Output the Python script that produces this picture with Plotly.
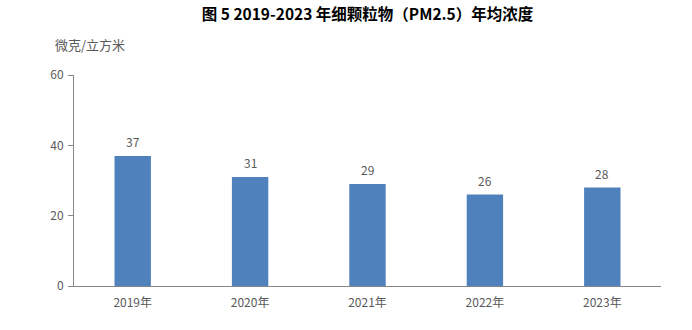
import plotly.graph_objects as go

years = ["2019年", "2020年", "2021年", "2022年", "2023年"]
pm25 = [37, 31, 29, 26, 28]
y_ticks = [0, 20, 40, 60]

title_text = "图 5 2019-2023 年细颗粒物（PM2.5）年均浓度"
unit_text = "微克/立方米"

bar_color = "#4F81BD"
axis_color = "#868686"
text_color = "#595959"
font_family = "Noto Sans CJK SC, Noto Sans, sans-serif"

fig = go.Figure()
fig.add_trace(go.Bar(
    x=years,
    y=pm25,
    marker=dict(color=bar_color, line=dict(width=0)),
    width=0.31,
    hoverinfo="x+y",
))

# value labels above each bar
for yr, v in zip(years, pm25):
    fig.add_annotation(
        x=yr, y=v, text=str(v), showarrow=False,
        yanchor="bottom", yshift=4,
        font=dict(family=font_family, size=12, color=text_color),
    )

fig.add_annotation(
    xref="paper", yref="paper", x=-0.035, y=1.09,
    xanchor="left", yanchor="bottom",
    text=unit_text, showarrow=False,
    font=dict(family=font_family, size=13, color=text_color),
)

fig.update_layout(
    width=692, height=330,
    margin=dict(l=74, r=31, t=75, b=44),
    paper_bgcolor="white", plot_bgcolor="white",
    showlegend=False,
    title=dict(
        text="<b>" + title_text + "</b>",
        x=0.5, xref="paper", xanchor="center",
        y=0.955, yanchor="middle",
        font=dict(family=font_family, size=15.5, color="black"),
    ),
    xaxis=dict(
        showline=True, linecolor=axis_color, linewidth=1,
        ticks="", showgrid=False, ticklabelstandoff=6,
        tickfont=dict(family=font_family, size=12, color=text_color),
    ),
    yaxis=dict(
        range=[0, 60], tickvals=y_ticks,
        showline=True, linecolor=axis_color, linewidth=1,
        ticks="outside", ticklen=5, tickcolor=axis_color,
        showgrid=False, zeroline=False, ticklabelstandoff=2,
        tickfont=dict(family=font_family, size=12, color=text_color),
    ),
)

fig.write_html("out.html")
